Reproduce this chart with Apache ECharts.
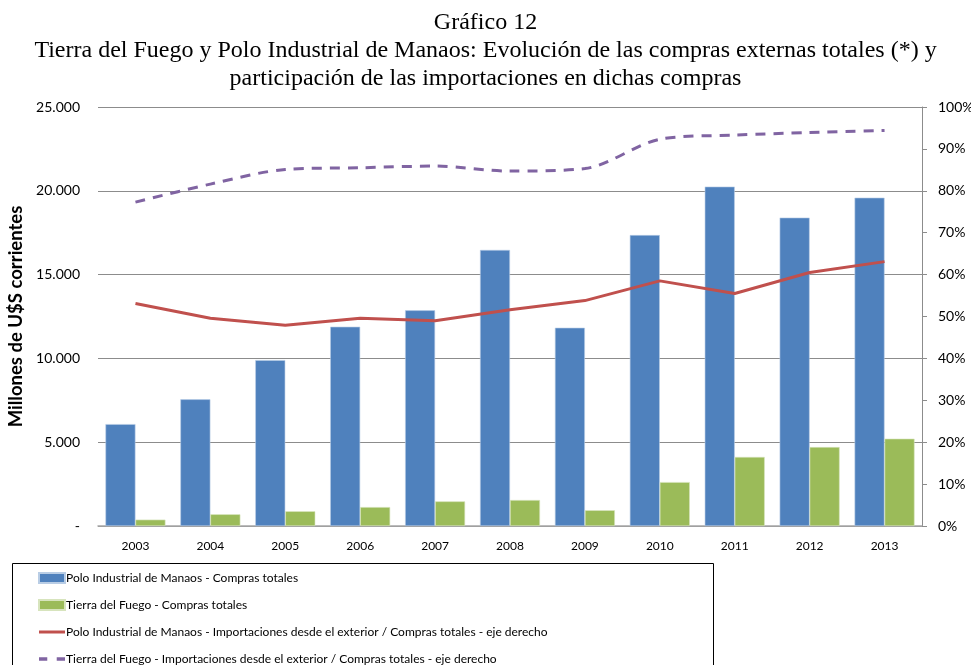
<!DOCTYPE html>
<html>
<head>
<meta charset="utf-8">
<script src="https://cdn.jsdelivr.net/npm/echarts@6/dist/echarts.min.js"></script>
<style>
  html, body { margin: 0; padding: 0; background: #fff; }
  #chart { width: 971px; height: 665px; }
</style>
</head>
<body>
<div id="chart"></div>
<script>
// datos
var years = ['2003', '2004', '2005', '2006', '2007', '2008', '2009', '2010', '2011', '2012', '2013'];
var manaosCompras = [6080, 7560, 9900, 11890, 12870, 16470, 11830, 17360, 20250, 18400, 19590];
var tdfCompras = [380, 700, 880, 1130, 1470, 1550, 940, 2620, 4120, 4710, 5210];
var manaosImport = [53.1, 49.6, 47.9, 49.6, 49.0, 51.6, 53.8, 58.5, 55.5, 60.5, 63.1];
var tdfImport = [77.3, 81.6, 85.1, 85.5, 85.9, 84.7, 85.3, 92.3, 93.3, 93.9, 94.4];

var names = [
  'Polo Industrial de Manaos - Compras totales',
  'Tierra del Fuego - Compras totales',
  'Polo Industrial de Manaos - Importaciones desde el exterior / Compras totales - eje derecho',
  'Tierra del Fuego - Importaciones desde el exterior / Compras totales - eje derecho'
];

var chart = echarts.init(document.getElementById('chart'));

var labelFont = 'Lato, "Open Sans", sans-serif';

var option = {
  animation: false,
  title: {
    text: 'Gráfico 12\nTierra del Fuego y Polo Industrial de Manaos: Evolución de las compras externas totales (*) y\nparticipación de las importaciones en dichas compras',
    left: 'center',
    top: 4,
    textStyle: {
      fontFamily: '"Liberation Serif", "DejaVu Serif", serif',
      fontWeight: 'normal',
      fontSize: 24,
      lineHeight: 28,
      color: '#000',
      align: 'center'
    }
  },
  grid: { left: 98, right: 49, top: 107, bottom: 139, outerBoundsMode: 'none' },
  graphic: [{
    type: 'rect',
    shape: { x: 12.5, y: 563.5, width: 701, height: 120 },
    style: { fill: 'none', stroke: '#000', lineWidth: 1 }
  }],
  legend: {
    orient: 'vertical',
    left: 33,
    top: 567,
    height: 130,
    itemWidth: 26,
    itemHeight: 10,
    itemGap: 15,
    data: [
      { name: names[0], icon: 'rect' },
      { name: names[1], icon: 'rect' },
      { name: names[2], icon: 'path://M0,0 L26,0 L26,3 L0,3 Z' },
      { name: names[3], icon: 'path://M0,0 L7,0 L7,3 L0,3 Z M15,0 L22,0 L22,3 L15,3 Z' }
    ],
    textStyle: { fontFamily: labelFont, fontSize: 12, color: '#000', padding: [0, 0, 0, -4] }
  },
  xAxis: {
    type: 'category',
    data: years,
    axisLine: { lineStyle: { color: '#a6a6a6', width: 1.5 } },
    axisTick: { show: false },
    axisLabel: { fontFamily: labelFont, fontSize: 12, color: '#000', margin: 14 }
  },
  yAxis: [{
    type: 'value',
    min: 0,
    max: 25000,
    interval: 5000,
    name: 'Millones de U$S corrientes',
    nameLocation: 'middle',
    nameGap: 60,
    nameTextStyle: { fontFamily: labelFont, fontSize: 18.5, fontWeight: 'bold', color: '#000' },
    axisLine: { show: false },
    axisTick: { show: false },
    splitLine: { lineStyle: { color: '#8c8c8c', width: 1 } },
    axisLabel: {
      fontFamily: labelFont, fontSize: 14, color: '#000', margin: 18,
      formatter: function (v) {
        if (v === 0) return '-';
        return String(v).replace(/\B(?=(\d{3})+(?!\d))/g, '.');
      }
    }
  }, {
    type: 'value',
    min: 0,
    max: 100,
    interval: 10,
    position: 'right',
    axisLine: { show: true, lineStyle: { color: '#8c8c8c' } },
    axisTick: { show: true, inside: false, length: 5, lineStyle: { color: '#8c8c8c' } },
    splitLine: { show: false },
    axisLabel: { fontFamily: labelFont, fontSize: 14, color: '#000', margin: 16, formatter: '{value}%' }
  }],
  series: [{
    name: names[0],
    type: 'bar',
    data: manaosCompras,
    barWidth: 30,
    barGap: '0%',
    itemStyle: { color: '#4F81BD', borderColor: '#b9cde5', borderWidth: 0.6 }
  }, {
    name: names[1],
    type: 'bar',
    data: tdfCompras,
    barWidth: 30,
    itemStyle: { color: '#9BBB59', borderColor: '#d7e4bd', borderWidth: 0.6 }
  }, {
    name: names[2],
    type: 'line',
    yAxisIndex: 1,
    data: manaosImport,
    symbol: 'none',
    lineStyle: { color: '#C0504D', width: 3 },
    itemStyle: { color: '#C0504D' }
  }, {
    name: names[3],
    type: 'line',
    yAxisIndex: 1,
    data: tdfImport,
    symbol: 'none',
    smooth: 0.3,
    lineStyle: { color: '#8064A2', width: 3, type: [10, 8] },
    itemStyle: { color: '#8064A2' }
  }]
};

chart.setOption(option);
</script>
</body>
</html>
